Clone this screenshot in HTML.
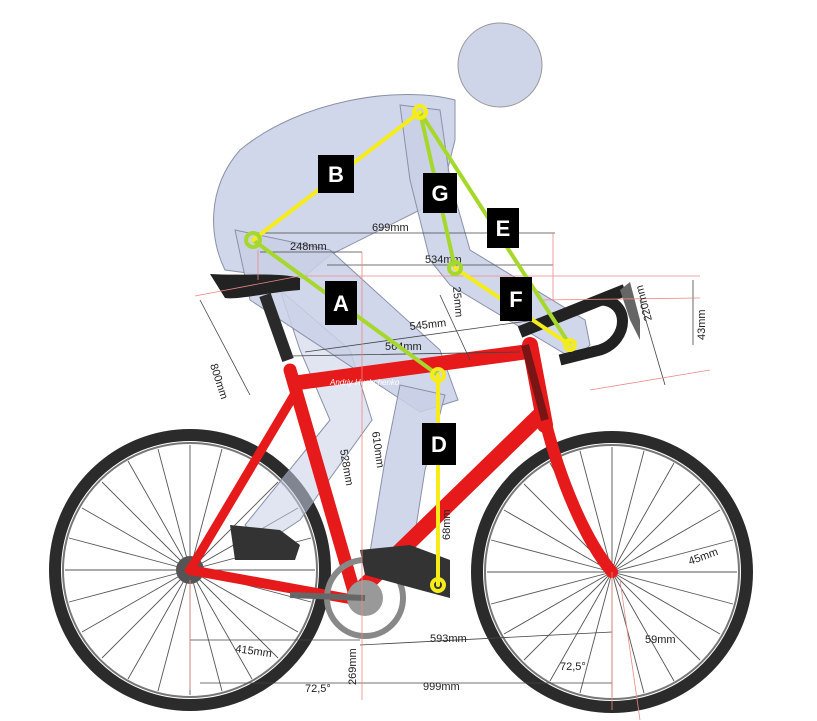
<!DOCTYPE html>
<html><head><meta charset="utf-8"><style>
html,body{margin:0;padding:0;background:#fff;}
svg{display:block;font-family:"Liberation Sans",sans-serif;}
.d{stroke:#444;stroke-width:0.8;fill:none}
.r{stroke:#e88;stroke-width:0.8;fill:none}
.t{font-size:11px;fill:#222}
.lb{font-size:22px;font-weight:bold;fill:#fff}
</style></head><body>
<svg width="817" height="721" viewBox="0 0 817 721">
<!-- wheels -->
<g fill="none">
<circle cx="190" cy="570" r="135" stroke="#2b2b2b" stroke-width="12"/>
<circle cx="190" cy="570" r="127" stroke="#777" stroke-width="2"/>
<circle cx="612" cy="572" r="135" stroke="#2b2b2b" stroke-width="12"/>
<circle cx="612" cy="572" r="127" stroke="#777" stroke-width="2"/>
</g>
<g stroke="#555" stroke-width="0.9">
<path d="M190 570 L190 445 M190 570 L252 461 M190 570 L298 508 M190 570 L315 570 M190 570 L298 632 M190 570 L252 679 M190 570 L190 695 M190 570 L128 679 M190 570 L82 632 M190 570 L65 570 M190 570 L82 508 M190 570 L128 461 M190 570 L222 449 M190 570 L278 482 M190 570 L311 602 M190 570 L222 691 M190 570 L158 691 M190 570 L69 538 M190 570 L102 482 M190 570 L158 449 M190 570 L311 538 M190 570 L278 658 M190 570 L102 658 M190 570 L69 602"/>
<path d="M612 572 L612 447 M612 572 L674 463 M612 572 L720 510 M612 572 L737 572 M612 572 L720 634 M612 572 L674 681 M612 572 L612 697 M612 572 L550 681 M612 572 L504 634 M612 572 L487 572 M612 572 L504 510 M612 572 L550 463 M612 572 L644 451 M612 572 L700 484 M612 572 L733 604 M612 572 L644 693 M612 572 L580 693 M612 572 L491 540 M612 572 L524 484 M612 572 L580 451 M612 572 L733 540 M612 572 L700 660 M612 572 L524 660 M612 572 L491 604"/>
</g>
<circle cx="190" cy="570" r="14" fill="#555"/>
<!-- body silhouette -->
<g fill="#c9d0e6" fill-opacity="0.85" stroke="#8a90a8" stroke-width="1">
<path d="M280 290 L350 350 L372 420 L300 520 L262 545 L245 525 L330 420 L300 350 Z" fill-opacity="0.55"/>
<path d="M455 100 C400 85 300 100 240 150 C205 190 210 240 225 270 L300 280 L330 255 L440 200 L455 140 Z"/>
<path d="M235 230 L330 250 L440 350 L458 400 L420 412 L250 300 Z"/>
<path d="M400 385 L445 395 L425 470 L412 552 L370 552 L385 460 Z"/>
<path d="M400 105 L440 110 L450 180 L470 250 L585 320 L590 345 L575 360 L450 285 L430 260 L410 180 Z"/>
</g>
<ellipse cx="500" cy="65" rx="42" ry="42" fill="#cfd5e8" stroke="#999" stroke-width="1"/>
<!-- saddle -->
<path d="M210 274 C240 276 280 272 300 278 L300 290 C270 292 240 300 225 298 Z" fill="#222"/>
<path d="M265 295 L288 360" stroke="#2a2a2a" stroke-width="12"/>
<!-- frame -->
<g stroke="#e61a1a" stroke-linecap="round" fill="none">
<path d="M290 370 L355 595" stroke-width="13"/>
<path d="M295 383 L525 352" stroke-width="15"/>
<path d="M355 595 L540 415" stroke-width="16"/>
<path d="M190 570 L355 600" stroke-width="10"/>
<path d="M190 570 L300 385" stroke-width="9"/>
<path d="M530 345 L545 425" stroke-width="16"/>
<path d="M545 420 C560 480 585 540 612 572" stroke-width="12"/>
</g>
<path d="M525 345 L545 420" stroke="#111" stroke-width="8" opacity="0.5"/>
<text x="330" y="385" font-size="8" font-style="italic" fill="#fff">Andriy Hushchenko</text>
<!-- chainring -->
<circle cx="365" cy="598" r="38" fill="none" stroke="#888" stroke-width="6"/>
<circle cx="365" cy="598" r="18" fill="#999"/>
<path d="M365 598 L290 595" stroke="#666" stroke-width="6"/>
<!-- shoes -->
<path d="M230 525 L280 530 L300 545 L295 560 L235 560 Z" fill="#333"/>
<path d="M360 550 L410 545 L450 560 L450 598 L420 590 L365 575 Z" fill="#333"/>
<!-- stem / bars -->
<path d="M520 332 L600 300 L625 290" stroke="#222" stroke-width="12" fill="none"/>
<path d="M600 300 C630 300 630 340 600 350 L560 360" stroke="#222" stroke-width="11" fill="none"/>
<path d="M620 290 L630 282 L640 320 L640 340 L630 320 Z" fill="#666"/>
<!-- dimension lines -->
<g class="d">
<path d="M255 233 L555 233"/><path d="M260 252 L362 252"/><path d="M327 265 L553 265"/>
<path d="M305 352 L535 320"/><path d="M290 356 L520 352"/>
<path d="M200 300 L250 395"/><path d="M640 300 L665 385"/>
<path d="M693 280 L693 345"/><path d="M200 683 L612 683"/><path d="M190 640 L360 640"/><path d="M360 645 L612 632"/>
<path d="M440 295 L470 360"/>
</g>
<g class="r">
<path d="M195 296 L300 276"/><path d="M300 276 L700 276"/><path d="M540 300 L700 298"/><path d="M590 390 L710 370"/>
<path d="M258 250 L258 280"/><path d="M553 233 L553 300"/><path d="M362 252 L362 700"/><path d="M612 572 L612 710"/>
<path d="M620 580 L640 720"/><path d="M190 580 L190 690"/>
</g>
<g class="t">
<text x="372" y="231">699mm</text><text x="290" y="250">248mm</text><text x="425" y="263">534mm</text>
<text x="410" y="330" transform="rotate(-6 410 330)">545mm</text><text x="385" y="350">564mm</text>
<text x="210" y="365" transform="rotate(72 210 365)">800mm</text>
<text x="340" y="450" transform="rotate(80 340 450)">528mm</text><text x="372" y="432" transform="rotate(82 372 432)">610mm</text>
<text x="453" y="287" transform="rotate(85 453 287)">25mm</text><text x="652" y="320" transform="rotate(-105 652 320)">220mm</text>
<text x="705" y="340" transform="rotate(-90 705 340)">43mm</text>
<text x="450" y="540" transform="rotate(-90 450 540)">68mm</text><text x="690" y="565" transform="rotate(-20 690 565)">45mm</text>
<text x="235" y="652" transform="rotate(8 235 652)">415mm</text><text x="430" y="642">593mm</text><text x="645" y="643">59mm</text>
<text x="423" y="690">999mm</text><text x="305" y="692">72,5°</text><text x="560" y="670">72,5°</text>
<text x="356" y="685" transform="rotate(-90 356 685)">269mm</text>
</g>
<!-- rider geometry lines -->
<g stroke-width="4" fill="none" stroke-linecap="round">
<path d="M253 240 L438 375" stroke="#a6d82c"/>
<path d="M420 112 L455 268" stroke="#a6d82c"/>
<path d="M420 112 L570 345" stroke="#a6d82c"/>
<path d="M420 112 L253 240" stroke="#f5ec1a"/>
<path d="M455 268 L570 345" stroke="#f5ec1a"/>
<path d="M438 375 L438 585" stroke="#f5ec1a"/>
</g>
<g fill="none" stroke-width="4">
<circle cx="253" cy="240" r="7" stroke="#a6d82c"/><circle cx="455" cy="268" r="6" stroke="#a6d82c"/>
<circle cx="420" cy="112" r="6" stroke="#f5ec1a"/><circle cx="438" cy="375" r="6" stroke="#f5ec1a"/>
<circle cx="438" cy="585" r="6" stroke="#f5ec1a"/><circle cx="570" cy="345" r="5" stroke="#f5ec1a"/>
</g>
<!-- labels -->
<g>
<rect x="318" y="155" width="36" height="38" fill="#000"/><text class="lb" x="336" y="182" text-anchor="middle">B</text>
<rect x="423" y="173" width="34" height="40" fill="#000"/><text class="lb" x="440" y="201" text-anchor="middle">G</text>
<rect x="487" y="208" width="32" height="40" fill="#000"/><text class="lb" x="503" y="236" text-anchor="middle">E</text>
<rect x="325" y="281" width="32" height="44" fill="#000"/><text class="lb" x="341" y="311" text-anchor="middle">A</text>
<rect x="500" y="277" width="32" height="44" fill="#000"/><text class="lb" x="516" y="307" text-anchor="middle">F</text>
<rect x="422" y="423" width="34" height="42" fill="#000"/><text class="lb" x="439" y="452" text-anchor="middle">D</text>
</g>
</svg>
</body></html>
